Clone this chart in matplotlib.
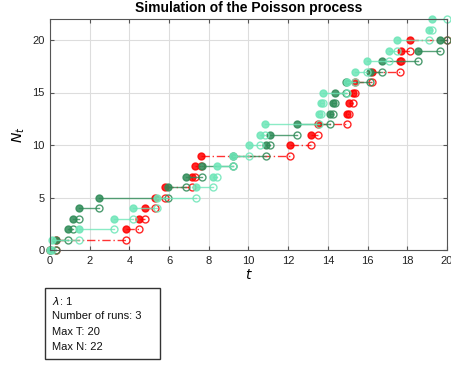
import matplotlib
matplotlib.use("Agg")
import matplotlib.pyplot as plt
from matplotlib.patches import Rectangle

plt.rcParams["font.family"] = ["Liberation Sans", "DejaVu Sans"]

# jump times of each simulated run (time at which N goes k -> k+1)
green_jumps = [0.30, 0.90, 1.15, 1.46, 2.47, 5.96, 6.85, 7.67, 9.20, 10.87,
               11.10, 12.43, 14.10, 14.24, 14.36, 14.90, 16.10, 16.75, 18.55, 19.65]
aqua_jumps = [0.10, 1.45, 3.20, 4.20, 5.37, 7.34, 8.23, 8.40, 9.20, 10.04,
              10.60, 10.83, 13.55, 13.65, 13.74, 14.95, 15.36, 15.95, 17.08, 17.50,
              19.10, 19.23]
red_jumps = [0.30, 3.85, 4.48, 4.79, 5.29, 5.79, 7.14, 7.30, 7.59, 12.09,
             13.13, 13.52, 14.95, 15.07, 15.28, 15.35, 16.20, 17.63, 17.70, 18.14]

lam = 1
n_runs = 3
max_t = 20
max_n = 22

runs = [
    (red_jumps, "#ff0000", (0, (6, 2, 1, 2))),
    (green_jumps, "#2e8b57", "-"),
    (aqua_jumps, "#6ee6b8", "-"),
]

fig = plt.figure(figsize=(4.52, 3.65), dpi=100)
ax = fig.add_axes([50 / 452, 1 - 250 / 365, 397 / 452, 231 / 365])

for jumps, color, ls in runs:
    starts = [0.0] + list(jumps)
    ends = list(jumps) + [max_t]
    for k, (t0, t1) in enumerate(zip(starts, ends)):
        ax.plot([t0, t1], [k, k], color=color, linestyle=ls, linewidth=1.0, alpha=0.8,
                clip_on=False)
        ax.plot(t0, k, "o", color=color, markersize=5, alpha=0.85, markeredgewidth=1,
                clip_on=False)
        ax.plot(t1, k, "o", markerfacecolor="none", markeredgecolor=color,
                markersize=5, alpha=0.85, markeredgewidth=1, clip_on=False)

ax.set_xlim(0, max_t)
ax.set_ylim(0, max_n)
ax.set_xticks(range(0, 21, 2))
ax.set_yticks(range(0, 21, 5))
ax.tick_params(direction="in", top=True, right=True, labelsize=8, length=3,
               color="#555555", labelcolor="#222222", pad=4)
ax.grid(True, color="#dddddd", linewidth=0.8)
ax.set_axisbelow(True)
for s in ax.spines.values():
    s.set_color("#555555")
    s.set_linewidth(0.8)

ax.set_title("Simulation of the Poisson process", fontsize=10, fontweight="bold", pad=5)
ax.set_xlabel("$t$", fontsize=10, labelpad=2)
ax.set_ylabel("$N_t$", fontsize=10, labelpad=4)

fig.add_artist(Rectangle((45 / 452, 1 - 359 / 365), 115 / 452, 71 / 365,
                         transform=fig.transFigure, facecolor="white",
                         edgecolor="#333333", linewidth=1))
lines = [r"$\lambda$: %d" % lam, "Number of runs: %d" % n_runs,
         "Max T: %d" % max_t, "Max N: %d" % max_n]
for i, txt in enumerate(lines):
    fig.text(52 / 452, 1 - (301 + 15.4 * i) / 365, txt, fontsize=8,
             va="center", ha="left", color="#111111")

fig.savefig("out.png", dpi=100)
